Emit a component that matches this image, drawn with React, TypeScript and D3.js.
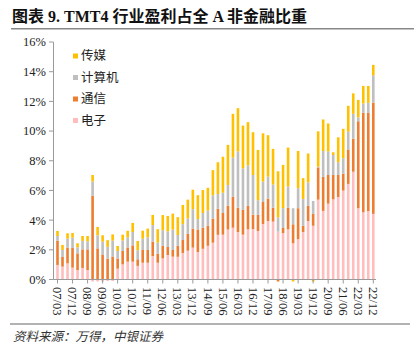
import React from 'react';
import * as d3 from 'd3';

// quarters 2007Q1 .. 2022Q4
const quarters = [
  '07/03','07/06','07/09','07/12','08/03','08/06','08/09','08/12',
  '09/03','09/06','09/09','09/12','10/03','10/06','10/09','10/12',
  '11/03','11/06','11/09','11/12','12/03','12/06','12/09','12/12',
  '13/03','13/06','13/09','13/12','14/03','14/06','14/09','14/12',
  '15/03','15/06','15/09','15/12','16/03','16/06','16/09','16/12',
  '17/03','17/06','17/09','17/12','18/03','18/06','18/09','18/12',
  '19/03','19/06','19/09','19/12','20/03','20/06','20/09','20/12',
  '21/03','21/06','21/09','21/12','22/03','22/06','22/09','22/12'
];

// share of profit, %
const dianzi = [
  0.98,0.87,1.09,0.80,0.64,0.78,0.64,-0.3,
  -0.4,-0.2,-0.1,-0.1,0.73,1.02,1.20,1.20,
  0.92,1.13,1.13,1.58,1.13,1.42,1.65,1.54,
  1.53,1.79,1.94,2.15,1.85,2.07,2.27,2.48,
  3.01,3.02,3.37,3.49,3.20,3.02,3.38,3.40,
  3.27,3.74,3.94,3.90,3.22,3.13,3.38,2.44,
  2.72,3.20,3.94,3.62,5.38,4.62,5.11,5.40,
  5.56,5.99,6.44,7.26,4.80,4.53,4.61,4.42
];
const tongxin = [
  1.64,0.65,1.06,1.32,1.12,1.25,1.39,5.65,
  2.10,1.65,1.40,1.55,0.69,0.90,0.96,1.10,
  0.44,0.86,0.86,0.97,0.62,0.85,0.54,0.45,
  0.74,0.87,1.13,1.28,1.52,1.42,1.36,1.62,
  1.76,1.46,1.61,2.08,1.64,1.67,1.58,0.97,
  1.08,1.48,1.51,0.94,-0.3,0.34,1.46,1.28,
  2.08,0.42,1.02,0.80,2.17,2.29,1.93,1.64,
  1.48,1.14,2.32,2.22,5.86,6.70,6.61,7.50
];
const jisuanji = [
  0.31,0.47,0.60,0.70,0.41,0.57,0.54,0.95,
  0.88,0.90,0.80,1.07,0.50,0.71,0.68,0.90,
  0.61,0.76,0.85,1.12,0.74,1.05,1.05,1.37,
  0.73,1.07,1.04,1.31,0.70,0.99,1.02,1.57,
  0.99,1.37,1.39,2.64,3.78,2.80,2.73,2.67,
  0.99,1.38,1.48,1.56,0.97,1.34,1.42,1.08,
  1.35,1.81,1.58,0.87,0.05,1.75,1.58,1.35,
  0.86,1.04,1.20,1.68,0.26,0.62,0.68,1.84
];
const chuanmei = [
  0.34,0.34,0.36,0.31,0.27,0.33,0.36,0.44,
  0.56,0.43,0.45,0.42,0.34,0.39,0.44,0.61,
  0.63,0.54,0.59,0.68,0.90,1.02,1.04,1.08,
  1.20,1.29,1.27,1.31,1.61,1.55,1.53,1.70,
  2.14,2.42,2.70,2.95,2.92,2.88,2.91,2.88,
  3.39,3.25,2.79,2.40,3.10,2.91,2.63,-0.5,
  2.51,1.40,1.95,-0.3,2.38,2.12,1.89,0.18,
  1.68,1.98,1.74,1.38,1.18,1.19,1.14,0.70
];

const seriesNames = ['电子', '通信', '计算机', '传媒'];
const seriesColors = ['#FFBDBD', '#ED7D31', '#BFBFBF', '#FFC000'];
const yTicks = [0, 2, 4, 6, 8, 10, 12, 14, 16];

const W = 414;
const H = 358;
const serif = '"Liberation Serif", "Times New Roman", serif';
const cjk = '"Noto Sans CJK SC", sans-serif';

export default function App() {
  const rows = quarters.map((q, i) => ({
    q,
    电子: dianzi[i],
    通信: tongxin[i],
    计算机: jisuanji[i],
    传媒: chuanmei[i],
  }));

  const stacked = d3.stack<any>()
    .keys(seriesNames)
    .offset(d3.stackOffsetDiverging)(rows);

  const x = d3.scalePoint().domain(quarters).range([57.5, 373.3]);
  const y = d3.scaleLinear().domain([0, 16]).range([279.5, 42]);
  const barW = 2.6;
  const axisX = 53.5;

  return (
    <svg width={W} height={H} style={{ position: 'absolute', left: 0, top: 0, background: '#fff' }}>
      <defs>
        <clipPath id="plot">
          <rect x={axisX} y={40} width={330} height={y(0) - 40 + 2} />
        </clipPath>
      </defs>

      {/* title */}
      <text x={12} y={22} fontSize={16} fontWeight="bold" fontFamily={`"Liberation Serif", ${cjk}`} fill="#111">
        图表 9. TMT4 行业盈利占全 A 非金融比重
      </text>
      <line x1={11} x2={414} y1={28.7} y2={28.7} stroke="#888" strokeWidth={1.5} />

      {/* bars */}
      <g clipPath="url(#plot)">
        {stacked.map((s, si) => (
          <g key={s.key} fill={seriesColors[si]}>
            {s.map((d, i) => {
              const y0 = y(Math.max(d[0], d[1]));
              const y1 = y(Math.min(d[0], d[1]));
              return (
                <rect key={i} x={(x(quarters[i]) as number) - barW / 2} y={y0}
                      width={barW} height={Math.max(0, y1 - y0)} />
              );
            })}
          </g>
        ))}
      </g>

      {/* y axis */}
      <line x1={axisX} x2={axisX} y1={y(16)} y2={y(0)} stroke="#9a9a9a" strokeWidth={1} />
      {yTicks.map(t => (
        <g key={t}>
          <line x1={axisX - 4.5} x2={axisX} y1={y(t)} y2={y(t)} stroke="#9a9a9a" />
          <text x={46} y={y(t)} dy="0.35em" textAnchor="end" fontSize={12.5}
                fontFamily={serif} fill="#222">{t}%</text>
        </g>
      ))}

      {/* x axis */}
      <line x1={axisX} x2={376} y1={y(0)} y2={y(0)} stroke="#9a9a9a" strokeWidth={1} />
      {quarters.map((q, i) => i % 3 === 0 ? (
        <g key={q}>
          <line x1={x(q) as number} x2={x(q) as number} y1={y(0)} y2={y(0) + 4} stroke="#9a9a9a" />
          <text transform={`translate(${x(q)},${287}) rotate(90)`} dy="0.35em" fontSize={12.5}
                fontFamily={serif} fill="#222">{q}</text>
        </g>
      ) : null)}

      {/* legend */}
      {[3, 2, 1, 0].map((si, k) => (
        <g key={si} transform={`translate(73,${56 + k * 21.5})`}>
          <rect x={0} y={-2.5} width={5} height={5} fill={seriesColors[si]} />
          <text x={8} y={0} dy="0.35em" fontSize={12.5} fontFamily={cjk} fill="#222">{seriesNames[si]}</text>
        </g>
      ))}

      {/* source */}
      <line x1={10} x2={410} y1={324} y2={324} stroke="#999" strokeWidth={1.5} />
      <text x={13} y={341} fontSize={12.5} fontStyle="italic" fontFamily={cjk} fill="#333">
        资料来源：万得，中银证券
      </text>
    </svg>
  );
}
